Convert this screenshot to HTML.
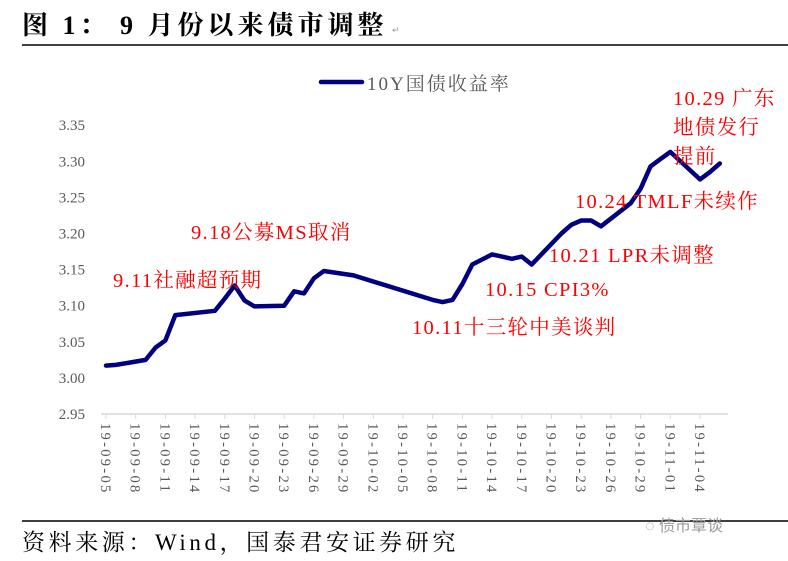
<!DOCTYPE html>
<html><head><meta charset="utf-8"><style>
body{margin:0;background:#fff;width:788px;height:561px;overflow:hidden}
svg{display:block}
</style></head><body>
<svg width="788" height="561" viewBox="0 0 788 561" xmlns="http://www.w3.org/2000/svg">
<text x="22" y="34" font-family="'Liberation Serif','Noto Serif CJK SC',serif" font-size="26" letter-spacing="4" font-weight="bold" fill="#000">图 1： 9 月份以来债市调整</text>
<text x="392" y="33" font-family="'Liberation Sans',sans-serif" font-size="9" fill="#999">↵</text>
<line x1="22" y1="45" x2="788" y2="45" stroke="#000" stroke-width="1.5"/>
<g>
<line x1="321" y1="82" x2="362" y2="82" stroke="#000080" stroke-width="4.5" stroke-linecap="round"/>
<text x="367" y="90" font-family="'Liberation Serif','Noto Serif CJK SC',serif" font-size="19" letter-spacing="2" fill="#595959">10Y国债收益率</text>
</g>
<g id="yaxis"></g>
<g id="xaxis"></g>
<path id="line" fill="none" stroke="#000080" stroke-width="4.5" stroke-linejoin="round" stroke-linecap="round"/>
<g font-family="'Liberation Serif','Noto Serif CJK SC',serif" font-size="20.5" letter-spacing="1.3" fill="#ff0000">
<text x="113" y="287">9.11社融超预期</text>
<text x="191" y="239">9.18公募MS取消</text>
<text x="412" y="334">10.11十三轮中美谈判</text>
<text x="485" y="296">10.15 CPI3%</text>
<text x="549" y="262">10.21 LPR未调整</text>
<text x="575" y="208">10.24 TMLF未续作</text>
<text x="673" y="105">10.29 广东</text>
<text x="673" y="134">地债发行</text>
<text x="673" y="163">提前</text>
</g>
<line x1="22" y1="521" x2="788" y2="521" stroke="#000" stroke-width="1.5"/>
<text x="22" y="550" font-family="'Liberation Serif','Noto Serif CJK SC',serif" font-size="23" letter-spacing="3.6" fill="#000">资料来源：Wind，国泰君安证券研究</text>
<text x="645" y="531" font-family="'Liberation Sans','Noto Sans CJK SC',sans-serif" font-size="16" fill="#999">◌ 债市覃谈</text>
</svg>
<script>
const dates=["2019-09-05","2019-09-06","2019-09-09","2019-09-10","2019-09-11","2019-09-12","2019-09-16","2019-09-17","2019-09-18","2019-09-19","2019-09-20","2019-09-23","2019-09-24","2019-09-25","2019-09-26","2019-09-27","2019-09-30","2019-10-08","2019-10-09","2019-10-10","2019-10-11","2019-10-12","2019-10-14","2019-10-15","2019-10-16","2019-10-17","2019-10-18","2019-10-21","2019-10-22","2019-10-23","2019-10-24","2019-10-25","2019-10-28","2019-10-29","2019-10-30","2019-10-31","2019-11-01","2019-11-04","2019-11-05","2019-11-06"];
const values=[3.017,3.018,3.025,3.042,3.052,3.087,3.093,3.110,3.128,3.107,3.099,3.100,3.120,3.117,3.138,3.148,3.142,3.108,3.105,3.108,3.130,3.157,3.171,3.168,3.165,3.168,3.157,3.200,3.212,3.218,3.218,3.210,3.242,3.262,3.293,3.303,3.313,3.275,3.285,3.297];
const yTicks=[2.95,3.00,3.05,3.10,3.15,3.20,3.25,3.30,3.35];
const xTickLabels=["19-09-05","19-09-08","19-09-11","19-09-14","19-09-17","19-09-20","19-09-23","19-09-26","19-09-29","19-10-02","19-10-05","19-10-08","19-10-11","19-10-14","19-10-17","19-10-20","19-10-23","19-10-26","19-10-29","19-11-01","19-11-04"];
const NS="http://www.w3.org/2000/svg";
const t0=Date.UTC(2019,8,5);
function dayOf(s){const p=s.split("-");return (Date.UTC(+p[0],+p[1]-1,+p[2])-t0)/86400000;}
function xOf(d){return 106+d*9.9;}
function yOf(v){return 414-(v-2.95)/0.05*36.1;}
const ya=document.getElementById('yaxis');
yTicks.forEach(v=>{
 const t=document.createElementNS(NS,'text');
 t.setAttribute('x',85);t.setAttribute('y',yOf(v)+5);t.setAttribute('text-anchor','end');
 t.setAttribute('font-family',"'Liberation Serif',serif");t.setAttribute('font-size','15');t.setAttribute('fill','#595959');
 t.textContent=v.toFixed(2);
 
 
 ya.appendChild(t);
});
const ax=document.createElementNS(NS,'line');
ax.setAttribute('x1',101);ax.setAttribute('x2',728);ax.setAttribute('y1',414);ax.setAttribute('y2',414);ax.setAttribute('stroke','#d9d9d9');ax.setAttribute('stroke-width','1.5');


ya.appendChild(ax);
const xa=document.getElementById('xaxis');
xTickLabels.forEach((s,i)=>{
 const x=xOf(dayOf("20"+s));
 const tk=document.createElementNS(NS,'line');
 tk.setAttribute('x1',x);tk.setAttribute('x2',x);tk.setAttribute('y1',414);tk.setAttribute('y2',419);tk.setAttribute('stroke','#d9d9d9');
 
 
 xa.appendChild(tk);
 const t=document.createElementNS(NS,'text');
 t.setAttribute('transform','translate('+(x-5)+',423) rotate(90)');
 t.setAttribute('font-family',"'Liberation Serif',serif");t.setAttribute('font-size','14.5');t.setAttribute('letter-spacing','2.3');t.setAttribute('fill','#595959');
 t.textContent=s;
 
 
 xa.appendChild(t);
});
let d='';
dates.forEach((s,i)=>{d+=(i?'L':'M')+xOf(dayOf(s)).toFixed(1)+','+yOf(values[i]).toFixed(1);});
document.getElementById('line').setAttribute('d',d);
</script>
</body></html>
